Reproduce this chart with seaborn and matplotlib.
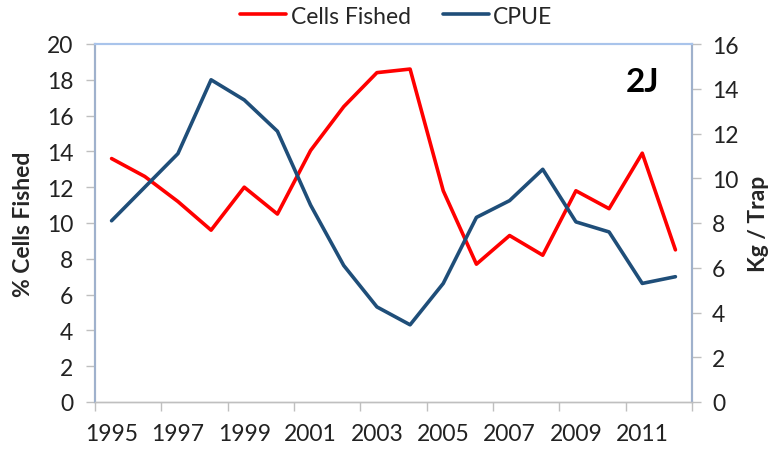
"""
Cells fished vs CPUE, division 2J.
"""

import matplotlib
matplotlib.use("Agg")
import matplotlib.pyplot as plt
import pandas as pd
import seaborn as sns
from matplotlib.ticker import FixedLocator, NullFormatter

years = list(range(1995, 2013))
cells_fished = [13.6, 12.6, 11.2, 9.6, 12.0, 10.5, 14.05, 16.5, 18.4, 18.6,
                11.8, 7.7, 9.3, 8.2, 11.8, 10.8, 13.9, 8.5]
cpue = [8.1, 9.6, 11.1, 14.4, 13.5, 12.1, 8.8, 6.1, 4.25, 3.45,
        5.3, 8.25, 9.0, 10.4, 8.05, 7.6, 5.3, 5.6]
year_labels = [str(y) for y in years[::2]]

RED = "#FF0000"
BLUE = "#1F4E79"
FS = 16.5

sns.set_theme(style="white")
plt.rcParams["font.family"] = ["Lato", "DejaVu Sans"]

df = pd.DataFrame({"pos": range(len(years)), "year": years,
                   "cells": cells_fished, "cpue": cpue})

fig = plt.figure(figsize=(7.77, 4.52), dpi=100)
ax = fig.add_axes([95 / 777, 1 - 403 / 452, (692 - 95) / 777, (403 - 45) / 452])
ax2 = ax.twinx()

sns.lineplot(data=df, x="pos", y="cells", ax=ax, color=RED, lw=2.6,
             label="Cells Fished", legend=False)
sns.lineplot(data=df, x="pos", y="cpue", ax=ax2, color=BLUE, lw=2.6,
             label="CPUE", legend=False)

ax.set_xlim(-0.5, len(years) - 0.5)
ax.set_ylim(0, 20)
ax2.set_ylim(0, 16)
ax.set_yticks(range(0, 21, 2))
ax2.set_yticks(range(0, 17, 2))

# category axis: tick marks at boundaries, labels at centres
ax.xaxis.set_major_locator(FixedLocator([i - 0.5 for i in range(0, len(years) + 1, 2)]))
ax.xaxis.set_major_formatter(NullFormatter())
ax.xaxis.set_minor_locator(FixedLocator(list(range(0, len(years), 2))))
ax.set_xticklabels(year_labels, minor=True)

ax.tick_params(axis="x", which="major", direction="out", length=6.5, width=1,
               color="#BFBFBF", bottom=True)
ax.tick_params(axis="x", which="minor", length=0, labelsize=FS,
               labelcolor="#222222", pad=15)
ax.tick_params(axis="y", direction="out", length=6.5, width=1, color="#BFBFBF",
               left=True, labelsize=FS, labelcolor="#222222", pad=9)
ax2.tick_params(axis="y", direction="out", length=6.5, width=1, color="#BFBFBF",
                right=True, labelsize=FS, labelcolor="#222222", pad=8)

ax.set_xlabel("")
ax.set_ylabel("% Cells Fished", fontsize=FS, fontweight="bold")
ax2.set_ylabel("Kg / Trap", fontsize=FS, fontweight="bold")
ax.yaxis.set_label_coords(-0.102, 0.5)
ax2.yaxis.set_label_coords(1.094, 0.5)

for a in (ax, ax2):
    a.spines["top"].set_color("#A9C4EB")
    a.spines["top"].set_linewidth(1.5)
    a.spines["left"].set_color("#9FB1CC")
    a.spines["left"].set_linewidth(1.5)
    a.spines["right"].set_color("#9FB1CC")
    a.spines["right"].set_linewidth(1.5)
    a.spines["bottom"].set_color("#BFBFBF")
    a.spines["bottom"].set_linewidth(1)

ax.text(0.917, 0.895, "2J", transform=ax.transAxes, ha="center", va="center",
        fontsize=24, fontweight="bold", color="black")

h1, l1 = ax.get_legend_handles_labels()
h2, l2 = ax2.get_legend_handles_labels()
fig.legend(h1 + h2, l1 + l2, loc="center", bbox_to_anchor=(0.51, 1 - 17 / 452),
           ncol=2, frameon=False, fontsize=FS, handlelength=2.0,
           handletextpad=0.2, columnspacing=1.4)

fig.savefig("out.png", dpi=100)
